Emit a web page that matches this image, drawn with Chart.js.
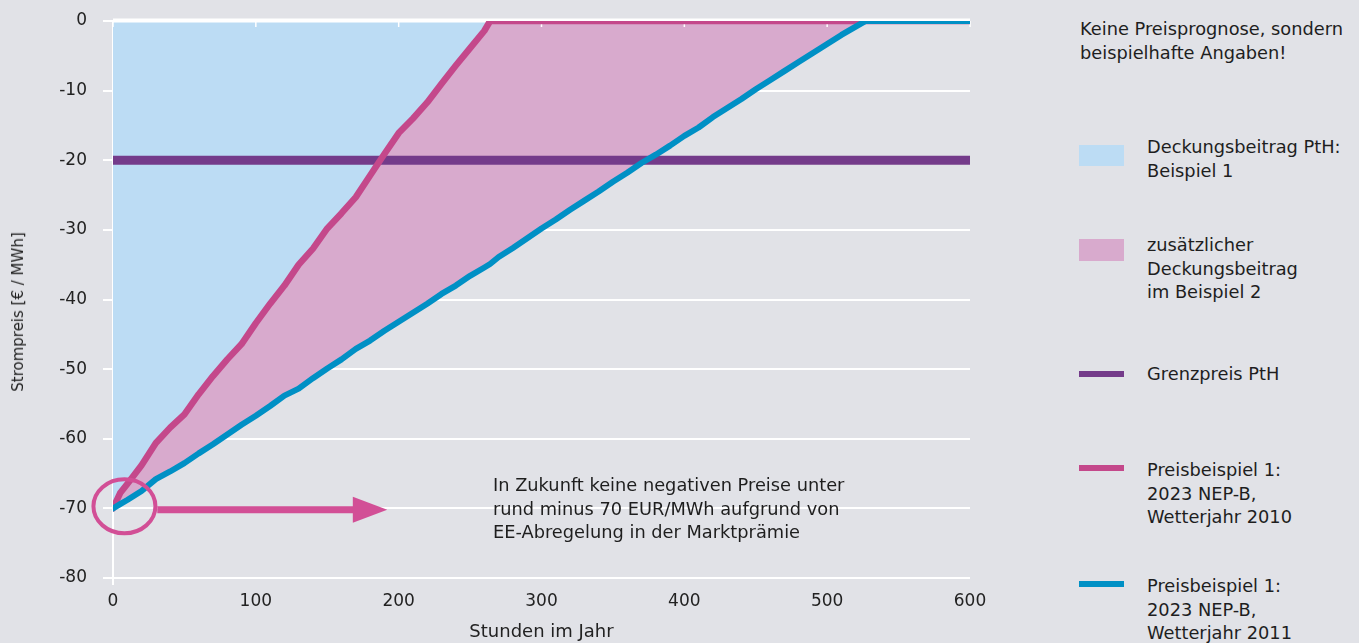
<!DOCTYPE html>
<html>
<head>
<meta charset="utf-8">
<script src="https://cdn.jsdelivr.net/npm/chart.js@4"></script>
<style>
  html, body { margin: 0; padding: 0; background: #e1e2e7; }
  body { width: 1359px; height: 643px; position: relative; overflow: hidden;
         font-family: "DejaVu Sans", sans-serif; color: #1e1e1e; }
  #wrap { position: absolute; left: 0; top: 0; width: 1000px; height: 643px; }
  .txt { position: absolute; font-size: 17.8px; line-height: 23.5px; white-space: nowrap; }
  .sw { position: absolute; left: 1079px; width: 45px; }
  #ytitle { position: absolute; left: 18px; top: 312px; font-size: 15px; white-space: nowrap;
            transform: translate(-50%, -50%) rotate(-90deg); color: #222; }
</style>
</head>
<body>
<div id="wrap"><canvas id="myChart1" width="1000" height="643"></canvas></div>
<div id="ytitle">Strompreis [€ / MWh]</div>

<div class="txt" style="left:1080px; top:17px;">Keine Preisprognose, sondern<br>beispielhafte Angaben!</div>

<div class="sw" style="top:145px; height:21px; background:#bcdcf4;"></div>
<div class="txt" style="left:1147px; top:135px;">Deckungsbeitrag PtH:<br>Beispiel 1</div>

<div class="sw" style="top:239px; height:22px; background:#d8aacd;"></div>
<div class="txt" style="left:1147px; top:233px;">zusätzlicher<br>Deckungsbeitrag<br>im Beispiel 2</div>

<div class="sw" style="top:371px; height:6px; background:#743b8a;"></div>
<div class="txt" style="left:1147px; top:362px;">Grenzpreis PtH</div>

<div class="sw" style="top:465px; height:6px; background:#c4488b;"></div>
<div class="txt" style="left:1147px; top:458px;">Preisbeispiel 1:<br>2023 NEP-B,<br>Wetterjahr 2010</div>

<div class="sw" style="top:581px; height:6px; background:#0090c5;"></div>
<div class="txt" style="left:1147px; top:574px;">Preisbeispiel 1:<br>2023 NEP-B,<br>Wetterjahr 2011</div>

<div class="txt" style="left:493px; top:473px;">In Zukunft keine negativen Preise unter<br>rund minus 70 EUR/MWh aufgrund von<br>EE-Abregelung in der Marktprämie</div>

<script>
// Stunden im Jahr (x)
const hours = [0, 5, 10, 20, 30, 40, 50, 60, 70, 80, 90, 100, 110, 120, 130, 140, 150,
  160, 170, 180, 190, 200, 210, 220, 230, 240, 250, 260, 264, 270, 280, 290, 300,
  310, 320, 330, 340, 350, 360, 370, 380, 390, 400, 410, 420, 430, 440, 450, 460,
  470, 480, 490, 500, 510, 520, 527, 530, 540, 550, 560, 570, 580, 590, 600];

// Preisbeispiel 1: 2023 NEP-B, Wetterjahr 2010
const price2010 = [-70, -67.8, -66.5, -63.8, -60.6, -58.4, -56.5, -53.6, -51.0, -48.6, -46.4, -43.4,
  -40.6, -38.0, -35.0, -32.7, -29.8, -27.6, -25.3, -22.2, -19.1, -16.1, -14.0, -11.7, -9.0,
  -6.4, -3.9, -1.4, 0, 0, 0, 0, 0, 0, 0, 0, 0, 0, 0, 0, 0, 0, 0, 0, 0, 0, 0, 0, 0, 0, 0,
  0, 0, 0, 0, 0, 0, 0, 0, 0, 0, 0, 0, 0];

// Preisbeispiel 1: 2023 NEP-B, Wetterjahr 2011
const price2011 = [-70, -69.4, -68.8, -67.5, -65.8, -64.7, -63.5, -62.1, -60.8, -59.4, -58.0, -56.7,
  -55.3, -53.8, -52.8, -51.3, -49.9, -48.6, -47.1, -45.9, -44.5, -43.2, -41.9, -40.6, -39.2,
  -38.0, -36.6, -35.4, -34.9, -33.9, -32.6, -31.2, -29.8, -28.5, -27.1, -25.8, -24.5, -23.1,
  -21.8, -20.4, -19.2, -17.9, -16.5, -15.3, -13.8, -12.5, -11.2, -9.8, -8.5, -7.2, -5.9,
  -4.6, -3.3, -2.0, -0.8, 0, 0, 0, 0, 0, 0, 0, 0, 0];

// Grenzpreis PtH
const limitHours = [0, 600];
const limitPrice = [-20, -20];

const xTicks = [0, 100, 200, 300, 400, 500, 600];
const yTicks = [0, -10, -20, -30, -40, -50, -60, -70, -80];

const toPoints = (xs, ys) => xs.map((x, i) => ({ x: x, y: ys[i] }));

// white zero line + small top ticks, over the fills but under the lines
const topLinePlugin = {
  id: 'topLine',
  beforeDatasetsDraw(chart) {
    const { ctx, chartArea, scales: { x, y } } = chart;
    const y0 = y.getPixelForValue(0);
    ctx.save();
    ctx.strokeStyle = '#ffffff';
    ctx.lineWidth = 4;
    ctx.beginPath();
    ctx.moveTo(chartArea.left, y0 - 0.5);
    ctx.lineTo(chartArea.right, y0 - 0.5);
    ctx.stroke();
    ctx.lineWidth = 1.5;
    xTicks.forEach(v => {
      const px = x.getPixelForValue(v);
      ctx.beginPath();
      ctx.moveTo(px, y0);
      ctx.lineTo(px, y0 + 6);
      ctx.stroke();
    });
    // y axis runs a little past -80
    const yb = y.getPixelForValue(-80);
    ctx.lineWidth = 2;
    ctx.beginPath();
    ctx.moveTo(chartArea.left, yb);
    ctx.lineTo(chartArea.left, yb + 7);
    ctx.stroke();
    ctx.restore();
  }
};

// circle + arrow pointing at the -70 floor
const notePlugin = {
  id: 'note',
  afterDatasetsDraw(chart) {
    const { ctx, scales: { x, y } } = chart;
    const cx = x.getPixelForValue(8), cy = y.getPixelForValue(-69.7);
    const pink = '#d24f96';
    ctx.save();
    ctx.strokeStyle = pink;
    ctx.lineWidth = 4;
    ctx.beginPath();
    ctx.ellipse(cx, cy, 31, 27, 0, 0, Math.PI * 2);
    ctx.stroke();
    const ay = y.getPixelForValue(-70.2);
    const x0 = x.getPixelForValue(31), x1 = x.getPixelForValue(170), x2 = x.getPixelForValue(192);
    ctx.lineWidth = 7;
    ctx.beginPath();
    ctx.moveTo(x0, ay);
    ctx.lineTo(x1, ay);
    ctx.stroke();
    ctx.fillStyle = pink;
    ctx.beginPath();
    ctx.moveTo(x1 - 3, ay - 13);
    ctx.lineTo(x2, ay);
    ctx.lineTo(x1 - 3, ay + 13);
    ctx.closePath();
    ctx.fill();
    ctx.restore();
  }
};

let ctx = document.getElementById('myChart1').getContext('2d');
let myChart1 = new Chart(ctx, {
  type: 'line',
  data: {
    datasets: [
      {
        label: 'Preisbeispiel 1: 2023 NEP-B, Wetterjahr 2011',
        data: toPoints(hours, price2011),
        borderColor: '#0090c5',
        backgroundColor: '#d8aacd',
        borderWidth: 6,
        fill: { target: 1 },
      },
      {
        label: 'Preisbeispiel 1: 2023 NEP-B, Wetterjahr 2010',
        data: toPoints(hours, price2010),
        borderColor: '#c4488b',
        backgroundColor: '#bcdcf4',
        borderWidth: 6.5,
        fill: 'end',
      },
      {
        label: 'Grenzpreis PtH',
        data: toPoints(limitHours, limitPrice),
        borderColor: '#743b8a',
        borderWidth: 9,
        borderCapStyle: 'butt',
        fill: false,
      },
    ]
  },
  options: {
    responsive: false,
    animation: false,
    layout: { autoPadding: false, padding: { top: 21, right: 30, left: 0, bottom: 0 } },
    elements: {
      point: { radius: 0 },
      line: { tension: 0, borderCapStyle: 'round', borderJoinStyle: 'round' }
    },
    plugins: {
      legend: { display: false },
      tooltip: { enabled: false },
      filler: { drawTime: 'beforeDatasetsDraw' }
    },
    scales: {
      x: {
        type: 'linear',
        min: 0,
        max: 600,
        afterFit: (s) => { s.height = 65; s.paddingLeft = 0; s.paddingRight = 0; },
        afterBuildTicks: (s) => { s.ticks = xTicks.map(v => ({ value: v })); },
        grid: { display: false, drawTicks: false },
        border: { display: false },
        ticks: { padding: 13, color: '#222', font: { family: 'DejaVu Sans', size: 17 } },
        title: {
          display: true, text: 'Stunden im Jahr', color: '#222',
          font: { family: 'DejaVu Sans', size: 18 }, padding: { top: 0, bottom: 0 }
        }
      },
      y: {
        min: -80,
        max: 0,
        afterFit: (s) => { s.width = 113; s.paddingTop = 0; s.paddingBottom = 0; },
        afterBuildTicks: (s) => { s.ticks = yTicks.map(v => ({ value: v })); },
        grid: { color: '#ffffff', lineWidth: 2, tickLength: 10 },
        border: { display: true, color: '#ffffff', width: 2 },
        ticks: { padding: 16, color: '#222', font: { family: 'DejaVu Sans', size: 17 } },
        title: { display: false }
      }
    }
  },
  plugins: [topLinePlugin, notePlugin]
});
</script>
</body>
</html>
